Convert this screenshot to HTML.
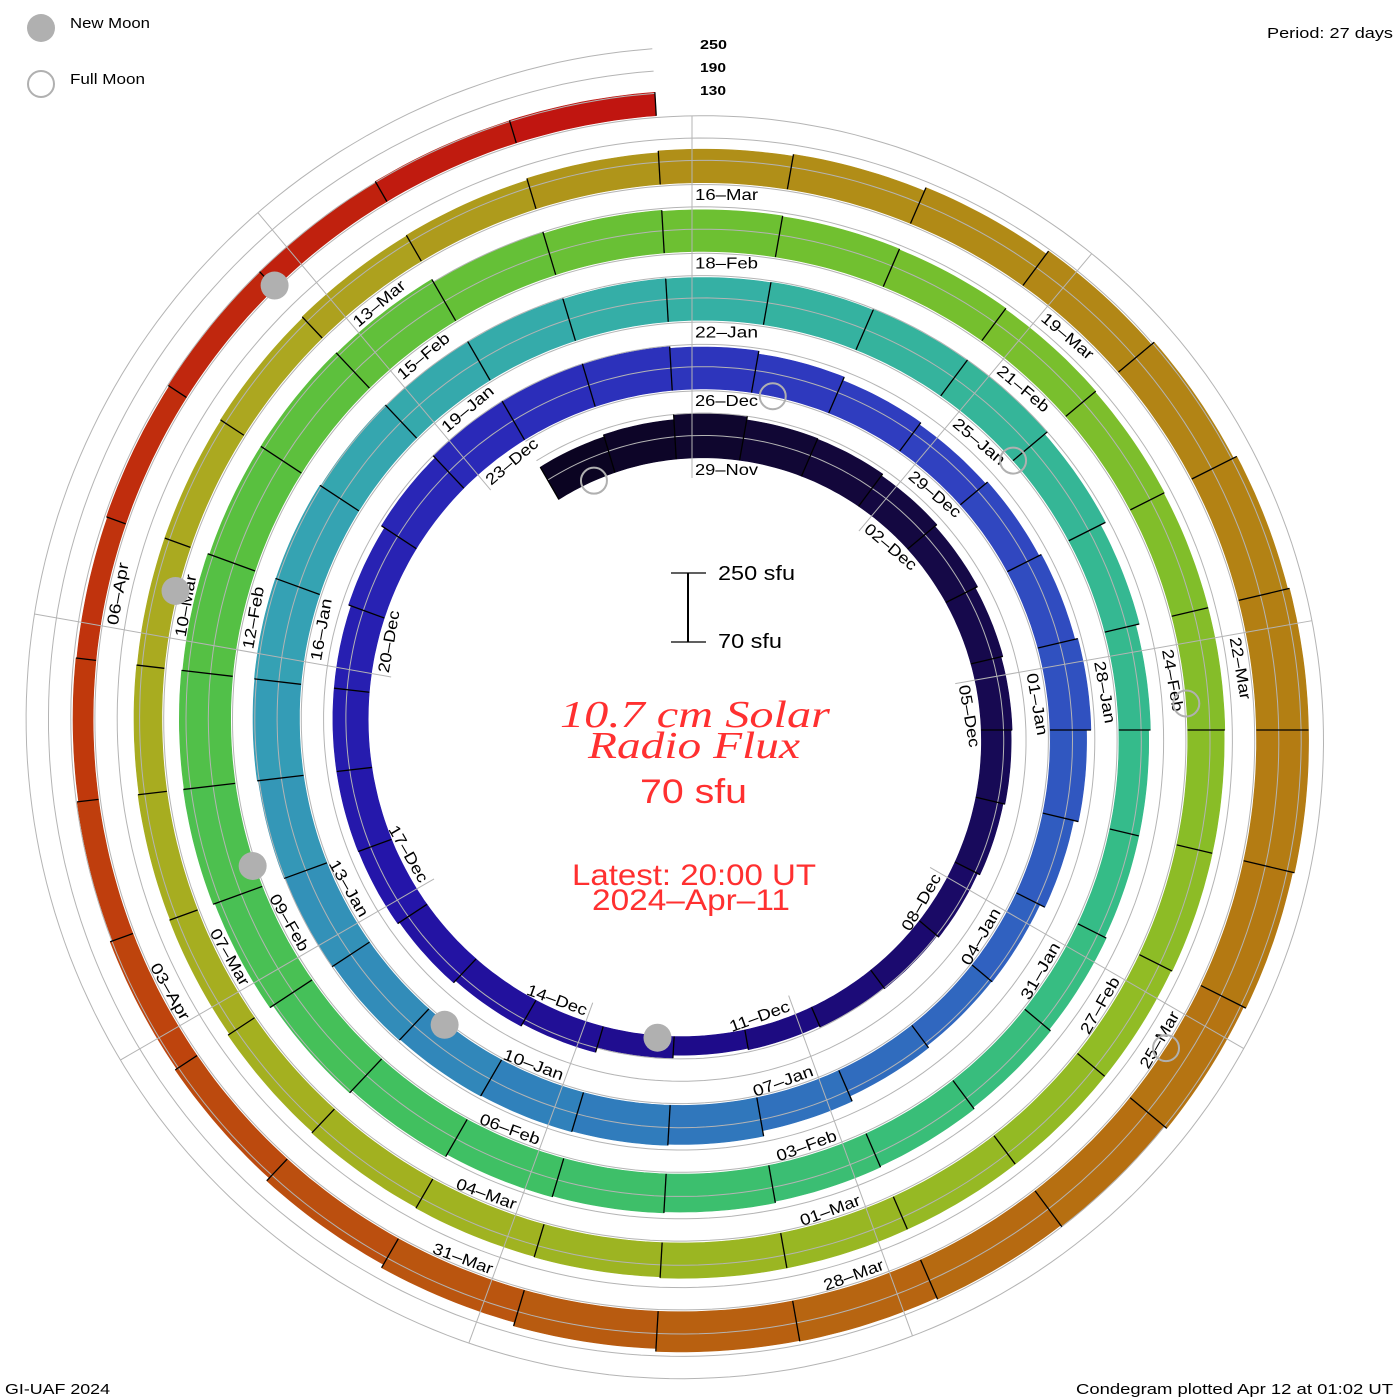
<!DOCTYPE html>
<html><head><meta charset="utf-8"><style>
html,body{margin:0;padding:0;background:#fff;}
svg{display:block;}
text{font-family:"Liberation Sans",sans-serif;}
</style></head><body>
<svg id="chart" xmlns="http://www.w3.org/2000/svg" width="1400" height="1400" viewBox="0 0 1400 1400">
<rect x="0" y="0" width="1400" height="1400" fill="#fff"/>
<g id="bands"></g>
<g id="overlay"></g>
<g id="labels"></g>
<g id="moons"></g>
<g>
 <circle cx="41" cy="28" r="14" fill="#b0b0b0"/>
 <text x="70" y="28" font-size="15" textLength="80" lengthAdjust="spacingAndGlyphs">New Moon</text>
 <circle cx="41" cy="84" r="13" fill="none" stroke="#b0b0b0" stroke-width="2"/>
 <text x="70" y="84" font-size="15" textLength="75" lengthAdjust="spacingAndGlyphs">Full Moon</text>
</g>
<text x="1393" y="38" font-size="15" text-anchor="end" textLength="126" lengthAdjust="spacingAndGlyphs">Period: 27 days</text>
<g>
 <text x="700" y="49" font-size="13" font-weight="bold" textLength="27" lengthAdjust="spacingAndGlyphs">250</text>
 <text x="700" y="72" font-size="13" font-weight="bold" textLength="26" lengthAdjust="spacingAndGlyphs">190</text>
 <text x="700" y="95" font-size="13" font-weight="bold" textLength="26" lengthAdjust="spacingAndGlyphs">130</text>
</g>
<g>
 <line x1="688" y1="573" x2="688" y2="642" stroke="#000" stroke-width="2"/>
 <line x1="671" y1="573" x2="706" y2="573" stroke="#000" stroke-width="1.3"/>
 <line x1="671" y1="642" x2="706" y2="642" stroke="#000" stroke-width="1.3"/>
 <text x="718" y="580" font-size="20" textLength="77" lengthAdjust="spacingAndGlyphs">250 sfu</text>
 <text x="718" y="648" font-size="20" textLength="64" lengthAdjust="spacingAndGlyphs">70 sfu</text>
</g>
<g fill="#ff3030">
 <text x="560" y="727" style="font-family:'Liberation Serif',serif;font-style:italic;font-weight:normal" font-size="38" textLength="270" lengthAdjust="spacingAndGlyphs">10.7 cm Solar</text>
 <text x="588" y="758" style="font-family:'Liberation Serif',serif;font-style:italic;font-weight:normal" font-size="38" textLength="212" lengthAdjust="spacingAndGlyphs">Radio Flux</text>
 <text x="640" y="803" font-size="34" textLength="107" lengthAdjust="spacingAndGlyphs">70 sfu</text>
 <text x="572" y="885" font-size="30" textLength="244" lengthAdjust="spacingAndGlyphs">Latest: 20:00 UT</text>
 <text x="592" y="910" font-size="30" textLength="198" lengthAdjust="spacingAndGlyphs">2024–Apr–11</text>
</g>
<text x="5" y="1394" font-size="15" textLength="105" lengthAdjust="spacingAndGlyphs">GI-UAF 2024</text>
<text x="1393" y="1394" font-size="15" text-anchor="end" textLength="317" lengthAdjust="spacingAndGlyphs">Condegram plotted Apr 12 at 01:02 UT</text>
</svg>
<script>
// Daily flux (sfu), starting 27-Nov-2023, ending 11-Apr-2024
const fluxRing0 = [170,176,190,180,178,172,165,158,153,150,145,138,132,128,124,120,128,142,150,158,164,165,165,165,172,182,190];
const fluxRing1 = [190,188,183,175,165,158,165,172,180,168,155,140,138,145,160,175,178,180,182,185,190,192,195,196,195,192,190];
const fluxRing2 = [188,186,185,186,188,190,180,165,155,150,150,155,160,165,168,172,175,178,185,195,205,210,208,205,200,200,198];
const fluxRing3 = [190,185,182,180,178,175,172,170,170,168,168,165,165,165,165,165,162,160,158,155,150,148,145,143,143,145,148];
const fluxRing4 = [150,155,160,165,175,185,195,205,210,210,205,198,190,185,180,178,170,160,150,140,135,128,124,122,125,128,130,132,133];
const firstDayOffset = -2; // 27-Nov relative to 29-Nov
const labelDates = ["29-Nov","02-Dec","05-Dec","08-Dec","11-Dec","14-Dec","17-Dec","20-Dec","23-Dec",
"26-Dec","29-Dec","01-Jan","04-Jan","07-Jan","10-Jan","13-Jan","16-Jan","19-Jan",
"22-Jan","25-Jan","28-Jan","31-Jan","03-Feb","06-Feb","09-Feb","12-Feb","15-Feb",
"18-Feb","21-Feb","24-Feb","27-Feb","01-Mar","04-Mar","07-Mar","10-Mar","13-Mar",
"16-Mar","19-Mar","22-Mar","25-Mar","28-Mar","31-Mar","03-Apr","06-Apr"];
const levels = [130,190,250];
const newMoonDays = [13.98,43.5,72.96,102.38,131.76];
const fullMoonDays = [-1.61,28.02,57.75,87.52,117.29];

const flux = fluxRing0.concat(fluxRing1,fluxRing2,fluxRing3,fluxRing4);
const NS="http://www.w3.org/2000/svg";
const cx=692, cy=730, R0=272, dR=68.8/27, K=67/180, BASE=70;
function R(t){return R0+dR*t;}
function ang(t){return t*360/27*Math.PI/180;}
function pt(t,r){const a=ang(t);return [cx+r*Math.sin(a), cy-r*Math.cos(a)];}
function hgt(v){return K*(v-BASE);}
const stops=[[-2,"#0a0420"],[3,"#140840"],[8,"#180a5a"],[13,"#1e0b88"],[18,"#2414a8"],[24,"#2a28b8"],[30,"#3040c0"],[36,"#3060c0"],[42,"#3080bb"],[48,"#35a0b5"],[54,"#35b0a5"],[62,"#35bc88"],[70,"#40c060"],[76,"#58c040"],[82,"#70c030"],[90,"#90bc25"],[98,"#a4b020"],[104,"#aca820"],[108,"#b09018"],[116,"#b47a12"],[122,"#b85c10"],[128,"#c03a0c"],[135,"#c01010"]];
function hx(h){return [1,3,5].map(i=>parseInt(h.substr(i,2),16));}
function col(t){
  if(t<=stops[0][0])return stops[0][1];
  for(let i=1;i<stops.length;i++){
    if(t<=stops[i][0]){const a=hx(stops[i-1][1]),b=hx(stops[i][1]);const f=(t-stops[i-1][0])/(stops[i][0]-stops[i-1][0]);
      return "rgb("+a.map((v,j)=>Math.round(v+(b[j]-v)*f)).join(",")+")";}
  }
  return stops[stops.length-1][1];
}
const bands=document.getElementById('bands'), overlay=document.getElementById('overlay'), labels=document.getElementById('labels'), moons=document.getElementById('moons');
for(let i=0;i<flux.length;i++){
  const t=i+firstDayOffset, t0=t-0.25, t1=t+0.75, h=hgt(flux[i]);
  let d="";
  const n=14;
  for(let j=0;j<=n;j++){const tt=t0+(t1-t0)*j/n;const p=pt(tt,R(tt));d+=(j?"L":"M")+p[0].toFixed(1)+" "+p[1].toFixed(1);}
  for(let j=n;j>=0;j--){const tt=t0+(t1-t0)*j/n;const p=pt(tt,R(tt)+h);d+="L"+p[0].toFixed(1)+" "+p[1].toFixed(1);}
  d+="Z";
  const el=document.createElementNS(NS,'path');
  el.setAttribute('d',d);el.setAttribute('fill',col(t+0.25));el.setAttribute('stroke',col(t+0.25));el.setAttribute('stroke-width','0.6');
  
  
  bands.appendChild(el);
}
levels.forEach(L=>{
  let d="";const tS=firstDayOffset-0.25, tE=flux.length+firstDayOffset-0.25;
  for(let tt=tS,j=0;tt<=tE+1e-6;tt+=0.1,j++){const p=pt(tt,R(tt)+hgt(L));d+=(j?"L":"M")+p[0].toFixed(1)+" "+p[1].toFixed(1);}
  const el=document.createElementNS(NS,'path');
  el.setAttribute('d',d);el.setAttribute('fill','none');el.setAttribute('stroke','#b4b4b4');el.setAttribute('stroke-width','1');
  
  
  overlay.appendChild(el);
});
const tEnd=flux.length+firstDayOffset-0.25;
for(let k=0;k<9;k++){
  const tf=3*k;let tl=tf;while(tl+27<=tEnd)tl+=27;
  const p0=pt(tf,R(tf)-20),p1=pt(tl,R(tl)+hgt(250));
  const el=document.createElementNS(NS,'line');
  el.setAttribute('x1',p0[0]);el.setAttribute('y1',p0[1]);el.setAttribute('x2',p1[0]);el.setAttribute('y2',p1[1]);
  el.setAttribute('stroke','#b4b4b4');el.setAttribute('stroke-width','1');
  
  
  overlay.appendChild(el);
}
for(let i=0;i<=flux.length;i++){
  const tb=i+firstDayOffset-0.25;
  const hp=i>0?hgt(flux[i-1]):0, hn=i<flux.length?hgt(flux[i]):0;
  const p0=pt(tb,R(tb)),p1=pt(tb,R(tb)+Math.max(hp,hn));
  const el=document.createElementNS(NS,'line');
  el.setAttribute('x1',p0[0]);el.setAttribute('y1',p0[1]);el.setAttribute('x2',p1[0]);el.setAttribute('y2',p1[1]);
  el.setAttribute('stroke','#000');el.setAttribute('stroke-width','1.3');
  
  
  overlay.appendChild(el);
}
labelDates.forEach((s,m)=>{
  const t=3*m, thetaDeg=(t*360/27)%360, p=pt(t,R(t));
  const el=document.createElementNS(NS,'text');
  const flip=thetaDeg>95&&thetaDeg<265;
  if(flip){
    el.setAttribute('transform','translate('+p[0].toFixed(1)+','+p[1].toFixed(1)+') rotate('+(thetaDeg+180)+')');
    el.setAttribute('x','-3');el.setAttribute('y','-5');el.setAttribute('text-anchor','end');
  } else {
    el.setAttribute('transform','translate('+p[0].toFixed(1)+','+p[1].toFixed(1)+') rotate('+thetaDeg+')');
    el.setAttribute('x','3');el.setAttribute('y','17');
  }
  el.setAttribute('font-size','16');el.setAttribute('textLength','63');el.setAttribute('lengthAdjust','spacingAndGlyphs');
  el.textContent=s.replace('-','–');
  
  
  labels.appendChild(el);
});
newMoonDays.forEach(t=>{
  const p=pt(t,R(t)+2);
  const el=document.createElementNS(NS,'circle');
  el.setAttribute('cx',p[0]);el.setAttribute('cy',p[1]);el.setAttribute('r','14');el.setAttribute('fill','#b0b0b0');
  
  
  moons.appendChild(el);
});
fullMoonDays.forEach(t=>{
  const p=pt(t,R(t));
  const el=document.createElementNS(NS,'circle');
  el.setAttribute('cx',p[0]);el.setAttribute('cy',p[1]);el.setAttribute('r','13');el.setAttribute('fill','none');el.setAttribute('stroke','#b0b0b0');el.setAttribute('stroke-width','2');
  
  
  moons.appendChild(el);
});
</script>
</body></html>
